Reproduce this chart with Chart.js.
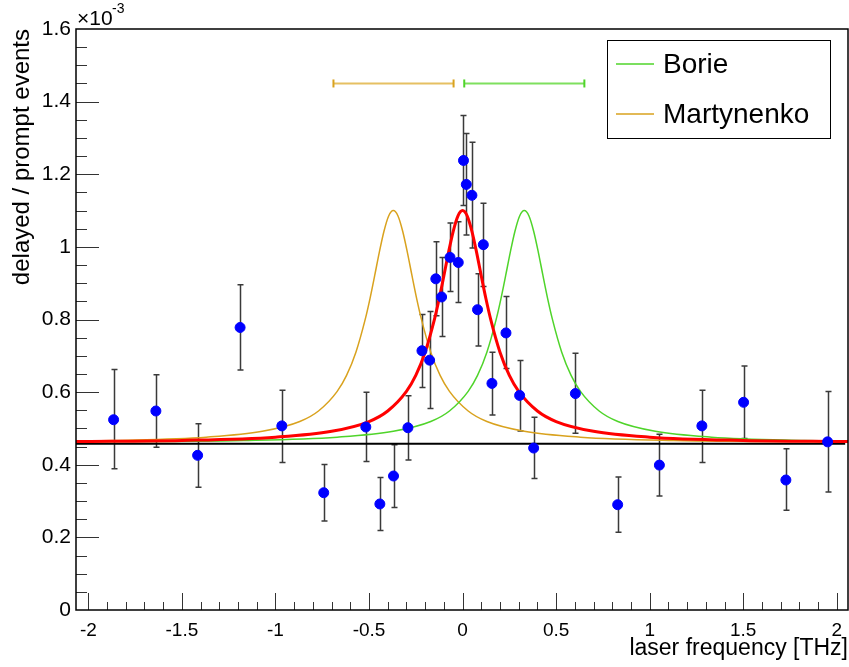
<!DOCTYPE html>
<html>
<head>
<meta charset="utf-8">
<script src="https://cdn.jsdelivr.net/npm/chart.js@4"></script>
<style>
  html, body { margin: 0; padding: 0; background: #fff; }
  canvas { display: block; }
</style>
</head>
<body>
<canvas id="resonanceChart" width="849" height="667"></canvas>
<script>
// Measured points (x in THz, y in units of 1e-3)
const freq = [-1.865, -1.639, -1.416, -1.189, -0.966, -0.742, -0.517, -0.442, -0.369, -0.292,
  -0.217, -0.176, -0.143, -0.112, -0.067, -0.023, 0.005, 0.020, 0.050, 0.080,
  0.111, 0.157, 0.232, 0.305, 0.380, 0.603, 0.829, 1.052, 1.279, 1.502, 1.728, 1.951];
const ratio = [0.524, 0.548, 0.426, 0.778, 0.507, 0.323, 0.504, 0.292, 0.369, 0.502,
  0.714, 0.688, 0.912, 0.862, 0.971, 0.957, 1.238, 1.172, 1.142, 0.827,
  1.006, 0.624, 0.763, 0.591, 0.446, 0.596, 0.290, 0.399, 0.507, 0.572, 0.358, 0.463];
const errHigh = [0.662, 0.648, 0.513, 0.896, 0.605, 0.401, 0.600, 0.365, 0.455, 0.590,
  0.814, 0.822, 1.014, 0.971, 1.066, 1.069, 1.362, 1.312, 1.288, 0.926,
  1.120, 0.710, 0.863, 0.687, 0.531, 0.707, 0.366, 0.484, 0.605, 0.672, 0.444, 0.602];
const errLow = [0.389, 0.448, 0.338, 0.661, 0.406, 0.245, 0.409, 0.219, 0.282, 0.413,
  0.613, 0.555, 0.810, 0.753, 0.877, 0.847, 1.114, 1.033, 0.997, 0.727,
  0.891, 0.537, 0.665, 0.493, 0.362, 0.487, 0.214, 0.314, 0.406, 0.472, 0.275, 0.325];

// Fitted line (red)
const fitX = [-2.066, -1.5, -1.0, -0.7, -0.5, -0.4, -0.3, -0.25, -0.2, -0.15, -0.125, -0.1, -0.075, -0.05, -0.025,
  0, 0.025, 0.05, 0.075, 0.1, 0.125, 0.15, 0.2, 0.25, 0.3, 0.4, 0.5, 0.7, 1.0, 1.5, 2.06];
const fitY = [0.464, 0.467, 0.476, 0.492, 0.519, 0.548, 0.602, 0.646, 0.710, 0.801, 0.857, 0.920, 0.985, 1.043, 1.085,
  1.100, 1.085, 1.043, 0.985, 0.920, 0.857, 0.801, 0.710, 0.646, 0.602, 0.548, 0.519, 0.492, 0.476, 0.467, 0.464];

// Borie prediction (green)
const borieX = [-2.066, -1.17, -0.67, -0.37, -0.17, -0.07, 0.03, 0.08, 0.13, 0.18, 0.205, 0.23, 0.255, 0.28, 0.305,
  0.33, 0.355, 0.38, 0.405, 0.43, 0.455, 0.48, 0.53, 0.58, 0.63, 0.73, 0.83, 1.03, 1.33, 1.83, 2.06];
const borieY = [0.463, 0.467, 0.476, 0.492, 0.519, 0.548, 0.602, 0.646, 0.710, 0.801, 0.857, 0.920, 0.985, 1.043, 1.085,
  1.100, 1.085, 1.043, 0.985, 0.920, 0.857, 0.801, 0.710, 0.646, 0.602, 0.548, 0.519, 0.492, 0.476, 0.467, 0.465];

// Martynenko prediction (orange)
const martX = [-2.066, -1.87, -1.37, -1.07, -0.87, -0.77, -0.67, -0.62, -0.57, -0.52, -0.495, -0.47, -0.445, -0.42, -0.395,
  -0.37, -0.345, -0.32, -0.295, -0.27, -0.245, -0.22, -0.17, -0.12, -0.07, 0.03, 0.13, 0.33, 0.63, 1.13, 2.06];
const martY = [0.465, 0.467, 0.476, 0.492, 0.519, 0.548, 0.602, 0.646, 0.710, 0.801, 0.857, 0.920, 0.985, 1.043, 1.085,
  1.100, 1.085, 1.043, 0.985, 0.920, 0.857, 0.801, 0.710, 0.646, 0.602, 0.548, 0.519, 0.492, 0.476, 0.467, 0.463];

// Background level
const bgX = [-2.066, 2.045];
const bgY = [0.458, 0.458];

// Theory uncertainty bars at the top
const borieBar = [0.009, 0.651];
const martBar = [-0.690, -0.048];
const theoryBarY = 1.45;

const GREEN = '#4fd42a';
const ORANGE = '#d9a21e';
const FONT = '"Liberation Sans", Arial, sans-serif';

function toPoints(xs, ys) {
    return xs.map((x, i) => ({ x: x, y: ys[i] }));
}

// drop trailing zeros, ROOT style ("1" not "1.0")
function plainNumber(value) {
    return String(Number(value.toFixed(3)));
}

// Error bars drawn under the markers
const errorBars = {
    id: 'errorBars',
    beforeDatasetsDraw(chart) {
        const { ctx, scales: { x, y } } = chart;
        ctx.save();
        ctx.strokeStyle = '#3a3a3a';
        ctx.lineWidth = 1.5;
        freq.forEach((f, i) => {
            const px = Math.round(x.getPixelForValue(f)) + 0.5;
            const top = y.getPixelForValue(errHigh[i]);
            const bot = y.getPixelForValue(errLow[i]);
            ctx.beginPath();
            ctx.moveTo(px, top);
            ctx.lineTo(px, bot);
            ctx.moveTo(px - 3, top);
            ctx.lineTo(px + 3, top);
            ctx.moveTo(px - 3, bot);
            ctx.lineTo(px + 3, bot);
            ctx.stroke();
        });
        ctx.restore();
    }
};

// ROOT-like frame, inner ticks, exponent and legend box
const frameAndLegend = {
    id: 'frameAndLegend',
    afterDraw(chart) {
        const { ctx, chartArea: a, scales: { x, y } } = chart;
        ctx.save();

        // inner ticks
        ctx.strokeStyle = '#333';
        ctx.lineWidth = 1;
        ctx.beginPath();
        for (let i = -20; i <= 20; i++) {
            const px = Math.round(x.getPixelForValue(i / 10)) + 0.5;
            const len = (i % 5 === 0) ? 17 : 8;
            ctx.moveTo(px, a.bottom);
            ctx.lineTo(px, a.bottom - len);
        }
        for (let i = 1; i < 32; i++) {
            const py = Math.round(y.getPixelForValue(i * 0.05)) + 0.5;
            const len = (i % 4 === 0) ? 23 : 11;
            ctx.moveTo(a.left, py);
            ctx.lineTo(a.left + len, py);
        }
        ctx.stroke();

        // frame
        ctx.strokeStyle = '#000';
        ctx.lineWidth = 1.5;
        ctx.strokeRect(a.left, a.top, a.right - a.left, a.bottom - a.top);

        // exponent
        ctx.fillStyle = '#000';
        ctx.textBaseline = 'alphabetic';
        ctx.textAlign = 'left';
        ctx.font = '21px ' + FONT;
        ctx.fillText('\u00d710', 77, 25);
        ctx.font = '14px ' + FONT;
        ctx.fillText('-3', 112, 13);

        // legend
        const lx = 607.5, ly = 40.5, lw = 223, lh = 98;
        ctx.fillStyle = '#fff';
        ctx.fillRect(lx, ly, lw, lh);
        ctx.strokeStyle = '#000';
        ctx.lineWidth = 1;
        ctx.strokeRect(lx, ly, lw, lh);
        const entries = [['Borie', GREEN, 64], ['Martynenko', ORANGE, 114]];
        ctx.font = '28px ' + FONT;
        ctx.textBaseline = 'middle';
        entries.forEach(([label, color, yy]) => {
            ctx.strokeStyle = color;
            ctx.lineWidth = 1.5;
            ctx.beginPath();
            ctx.moveTo(616, yy);
            ctx.lineTo(654, yy);
            ctx.stroke();
            ctx.fillStyle = '#000';
            ctx.fillText(label, 663, yy + 1);
        });
        ctx.restore();
    }
};

const ctx = document.getElementById('resonanceChart');
new Chart(ctx, {
    type: 'scatter',
    data: {
        datasets: [
            {
                label: 'data',
                data: toPoints(freq, ratio),
                backgroundColor: '#0000ff',
                borderColor: '#0000ff',
                pointRadius: 5,
                pointHoverRadius: 5,
                order: 0
            },
            {
                label: 'fit',
                type: 'line',
                data: toPoints(fitX, fitY),
                borderColor: '#ff0000',
                borderWidth: 3,
                pointRadius: 0,
                cubicInterpolationMode: 'monotone',
                order: 1
            },
            {
                label: 'Borie',
                type: 'line',
                data: toPoints(borieX, borieY),
                borderColor: GREEN,
                borderWidth: 1.5,
                pointRadius: 0,
                cubicInterpolationMode: 'monotone',
                order: 2
            },
            {
                label: 'Martynenko',
                type: 'line',
                data: toPoints(martX, martY),
                borderColor: ORANGE,
                borderWidth: 1.5,
                pointRadius: 0,
                cubicInterpolationMode: 'monotone',
                order: 3
            },
            {
                label: 'background',
                type: 'line',
                data: toPoints(bgX, bgY),
                borderColor: '#000',
                borderWidth: 2,
                pointRadius: 0,
                order: 4
            },
            {
                label: 'Borie range',
                type: 'line',
                data: toPoints(borieBar, [theoryBarY, theoryBarY]),
                borderColor: '#7ee05e',
                borderWidth: 2,
                pointStyle: 'line',
                pointRotation: 90,
                pointRadius: 4,
                pointBorderColor: GREEN,
                pointBorderWidth: 2,
                order: 5
            },
            {
                label: 'Martynenko range',
                type: 'line',
                data: toPoints(martBar, [theoryBarY, theoryBarY]),
                borderColor: '#e6c062',
                borderWidth: 2,
                pointStyle: 'line',
                pointRotation: 90,
                pointRadius: 4,
                pointBorderColor: ORANGE,
                pointBorderWidth: 2,
                order: 6
            }
        ]
    },
    options: {
        responsive: false,
        animation: false,
        events: [],
        layout: {
            autoPadding: false,
            padding: { top: 29, right: 1, left: 0, bottom: 0 }
        },
        plugins: {
            legend: { display: false },
            tooltip: { enabled: false }
        },
        scales: {
            x: {
                type: 'linear',
                min: -2.066,
                max: 2.06,
                afterFit: (scale) => {
                    scale.height = 57;
                    scale.paddingLeft = 0;
                    scale.paddingRight = 0;
                },
                grid: { display: false, drawTicks: false },
                border: { display: false },
                ticks: {
                    stepSize: 0.5,
                    includeBounds: false,
                    padding: 9,
                    color: '#000',
                    maxRotation: 0,
                    callback: plainNumber,
                    font: { family: FONT, size: 19 }
                },
                title: {
                    display: true,
                    text: 'laser frequency [THz]',
                    align: 'end',
                    color: '#000',
                    padding: { top: 0, bottom: 5 },
                    font: { family: FONT, size: 23 }
                }
            },
            y: {
                type: 'linear',
                min: 0,
                max: 1.6,
                afterFit: (scale) => {
                    scale.width = 76;
                    scale.paddingTop = 0;
                    scale.paddingBottom = 0;
                },
                grid: { display: false, drawTicks: false },
                border: { display: false },
                ticks: {
                    stepSize: 0.2,
                    includeBounds: false,
                    padding: 5,
                    color: '#000',
                    callback: plainNumber,
                    font: { family: FONT, size: 21 }
                },
                title: {
                    display: true,
                    text: 'delayed / prompt events',
                    align: 'end',
                    color: '#000',
                    padding: { top: 8, bottom: 0 },
                    font: { family: FONT, size: 24 }
                }
            }
        }
    },
    plugins: [errorBars, frameAndLegend]
});
</script>
</body>
</html>
